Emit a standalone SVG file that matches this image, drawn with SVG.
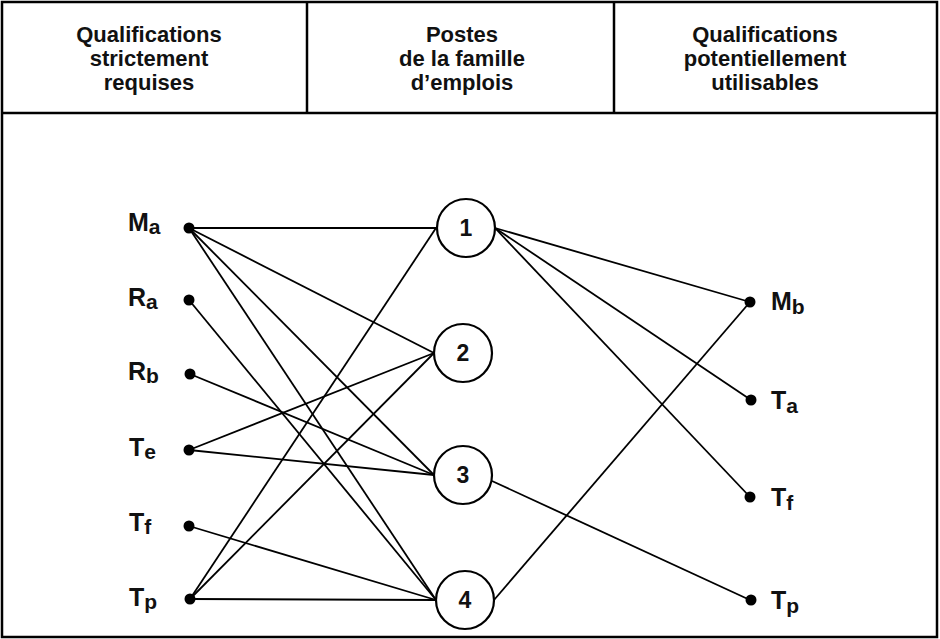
<svg xmlns="http://www.w3.org/2000/svg" width="940" height="639" viewBox="0 0 940 639">
<style>
.frame{fill:none;stroke:#000;stroke-width:2.5}
.hd{font-family:"Liberation Sans",Arial,sans-serif;font-weight:bold;font-size:22px;text-anchor:middle;fill:#111}
.lb{font-family:"Liberation Sans",Arial,sans-serif;font-weight:bold;font-size:25px;fill:#111}
.sub{font-size:21px}
.num{font-family:"Liberation Sans",Arial,sans-serif;font-weight:bold;font-size:23px;text-anchor:middle;fill:#111}
.dot{fill:#000}
.post{fill:#fff;stroke:#000;stroke-width:2.2}
#connectors line{stroke:#000;stroke-width:1.8}
</style>
<rect x="0" y="0" width="940" height="639" fill="#fff"/>
<g id="frame">
<rect class="frame" x="2" y="2" width="935" height="635"/>
<line class="frame" x1="2" y1="113" x2="937" y2="113"/>
<line class="frame" x1="307" y1="2" x2="307" y2="113"/>
<line class="frame" x1="614" y1="2" x2="614" y2="113"/>
</g>
<g id="headers">
<text class="hd" x="149" y="42">Qualifications</text>
<text class="hd" x="149" y="66">strictement</text>
<text class="hd" x="149" y="90">requises</text>
<text class="hd" x="462" y="42">Postes</text>
<text class="hd" x="462" y="66">de la famille</text>
<text class="hd" x="462" y="90">d’emplois</text>
<text class="hd" x="765" y="42">Qualifications</text>
<text class="hd" x="765" y="66">potentiellement</text>
<text class="hd" x="765" y="90">utilisables</text>
</g>
<g id="connectors">
<line x1="189" y1="228" x2="436" y2="228"/>
<line x1="189" y1="228" x2="434" y2="353"/>
<line x1="189" y1="228" x2="434" y2="475"/>
<line x1="189" y1="228" x2="436" y2="600"/>
<line x1="189" y1="300" x2="436" y2="600"/>
<line x1="190" y1="374" x2="434" y2="475"/>
<line x1="189" y1="450" x2="434" y2="353"/>
<line x1="189" y1="450" x2="434" y2="475"/>
<line x1="189" y1="526" x2="436" y2="600"/>
<line x1="190" y1="599" x2="436" y2="600"/>
<line x1="190" y1="599" x2="436" y2="228"/>
<line x1="190" y1="599" x2="434" y2="353"/>
<line x1="495" y1="228" x2="750" y2="302"/>
<line x1="495" y1="228" x2="751" y2="400"/>
<line x1="495" y1="228" x2="750" y2="497"/>
<line x1="492" y1="481" x2="750" y2="600"/>
<line x1="494" y1="600" x2="750" y2="302"/>
</g>
<g id="left-Ma"><circle class="dot" cx="189" cy="228" r="5.5"/><text class="lb" x="128" y="231">M<tspan class="sub" dy="3">a</tspan></text></g>
<g id="left-Ra"><circle class="dot" cx="189" cy="300" r="5.5"/><text class="lb" x="128" y="306">R<tspan class="sub" dy="3">a</tspan></text></g>
<g id="left-Rb"><circle class="dot" cx="190" cy="374" r="5.5"/><text class="lb" x="128" y="380">R<tspan class="sub" dy="3">b</tspan></text></g>
<g id="left-Te"><circle class="dot" cx="189" cy="450" r="5.5"/><text class="lb" x="129" y="456">T<tspan class="sub" dy="3">e</tspan></text></g>
<g id="left-Tf"><circle class="dot" cx="189" cy="526" r="5.5"/><text class="lb" x="129" y="531">T<tspan class="sub" dy="3">f</tspan></text></g>
<g id="left-Tp"><circle class="dot" cx="190" cy="599" r="5.5"/><text class="lb" x="129" y="606">T<tspan class="sub" dy="3">p</tspan></text></g>
<g id="post-1"><circle class="post" cx="466" cy="228" r="29"/><text class="num" x="466" y="236">1</text></g>
<g id="post-2"><circle class="post" cx="463" cy="353" r="29"/><text class="num" x="463" y="361">2</text></g>
<g id="post-3"><circle class="post" cx="463" cy="475" r="29"/><text class="num" x="463" y="483">3</text></g>
<g id="post-4"><circle class="post" cx="465" cy="600" r="29"/><text class="num" x="465" y="608">4</text></g>
<g id="right-Mb"><circle class="dot" cx="750" cy="302" r="5.5"/><text class="lb" x="771" y="310">M<tspan class="sub" dy="4">b</tspan></text></g>
<g id="right-Ta"><circle class="dot" cx="751" cy="400" r="5.5"/><text class="lb" x="771" y="409">T<tspan class="sub" dy="4">a</tspan></text></g>
<g id="right-Tf"><circle class="dot" cx="750" cy="497" r="5.5"/><text class="lb" x="771" y="506">T<tspan class="sub" dy="4">f</tspan></text></g>
<g id="right-Tp"><circle class="dot" cx="751" cy="600" r="5.5"/><text class="lb" x="771" y="609">T<tspan class="sub" dy="4">p</tspan></text></g>
</svg>
